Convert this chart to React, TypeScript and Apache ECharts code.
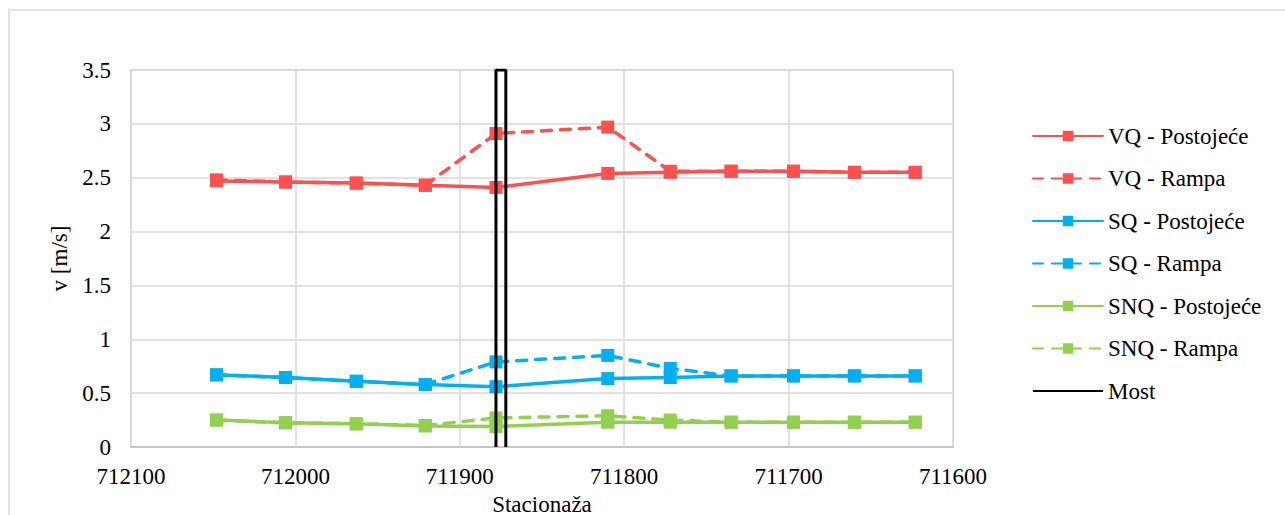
import React, { useEffect, useRef } from "react";
import * as echarts from "echarts";

const stations = [712048, 712006, 711963, 711921, 711878, 711810, 711772, 711735, 711697, 711660, 711623];
const vqPostojece = [2.47, 2.46, 2.45, 2.43, 2.41, 2.54, 2.55, 2.56, 2.56, 2.55, 2.55];
const vqRampa = [2.48, 2.46, 2.45, 2.43, 2.91, 2.97, 2.56, 2.56, 2.56, 2.55, 2.55];
const sqPostojece = [0.67, 0.645, 0.61, 0.58, 0.56, 0.635, 0.645, 0.66, 0.66, 0.66, 0.66];
const sqRampa = [0.67, 0.645, 0.61, 0.58, 0.79, 0.85, 0.73, 0.66, 0.66, 0.66, 0.66];
const snqPostojece = [0.25, 0.225, 0.215, 0.195, 0.19, 0.23, 0.23, 0.23, 0.23, 0.23, 0.23];
const snqRampa = [0.25, 0.225, 0.215, 0.2, 0.27, 0.29, 0.25, 0.23, 0.23, 0.23, 0.23];
const mostX = [711878, 711878, 711872, 711872];
const mostY = [0, 3.5, 3.5, 0];

const FONT = "Liberation Serif";
const RED = "#FF5050";
const BLUE = "#00B0F0";
const GREEN = "#92D050";

function pairs(xs: number[], ys: number[]) {
  return xs.map((x, i) => [x, ys[i]]);
}

function lineSeries(name: string, ys: number[], color: string, dashed: boolean) {
  return {
    name,
    type: "line",
    data: pairs(stations, ys),
    symbol: "rect",
    symbolSize: 13,
    showSymbol: true,
    itemStyle: { color },
    lineStyle: {
      color,
      width: 3.5,
      type: dashed ? [10, 9] : "solid",
      cap: "round",
    },
    z: dashed ? 3 : 2,
  };
}

export default function App() {
  const ref = useRef<HTMLDivElement>(null);
  useEffect(() => {
    if (!ref.current) return;
    const chart = echarts.init(ref.current, undefined, { renderer: "svg" });
    chart.setOption({
      animation: false,
      backgroundColor: "#ffffff",
      textStyle: { fontFamily: FONT },
      graphic: [
        {
          type: "rect",
          shape: { x: 9, y: 10, width: 1300, height: 600 },
          style: { fill: "none", stroke: "#d9d9d9", lineWidth: 1.5 },
          silent: true,
        },
      ],
      grid: {
        left: 131,
        top: 70,
        right: 332,
        bottom: 68,
        show: true,
        borderColor: "#d9d9d9",
        borderWidth: 1.5,
        containLabel: false,
        outerBoundsMode: "none",
      },
      legend: {
        orient: "vertical",
        left: 1032,
        top: 124,
        padding: 0,
        itemWidth: 70,
        itemHeight: 13,
        itemGap: 18.5,
        itemTextGap: 6,
        textStyle: { fontFamily: FONT, fontSize: 23, color: "#000", lineHeight: 24 },
        data: [
          "VQ - Postojeće",
          "VQ - Rampa",
          "SQ - Postojeće",
          "SQ - Rampa",
          "SNQ - Postojeće",
          "SNQ - Rampa",
          { name: "Most", itemStyle: { opacity: 0 } },
        ],
      },
      xAxis: {
        type: "value",
        inverse: true,
        min: 711600,
        max: 712100,
        interval: 100,
        name: "Stacionaža",
        nameLocation: "middle",
        nameGap: 36,
        nameTextStyle: { fontFamily: FONT, fontSize: 23, color: "#000" },
        axisLine: { show: true, lineStyle: { color: "#bfbfbf", width: 1.5 } },
        axisTick: { show: false },
        axisLabel: {
          fontFamily: FONT,
          fontSize: 23,
          color: "#000",
          margin: 18,
          formatter: (v: number) => String(v),
        },
        splitLine: { show: true, lineStyle: { color: "#d9d9d9", width: 1.5 } },
      },
      yAxis: {
        type: "value",
        min: 0,
        max: 3.5,
        interval: 0.5,
        name: "v [m/s]",
        nameLocation: "middle",
        nameRotate: 90,
        nameGap: 58,
        nameTextStyle: { fontFamily: FONT, fontSize: 23, color: "#000" },
        axisLine: { show: true, lineStyle: { color: "#d9d9d9", width: 1.5 } },
        axisTick: { show: false },
        axisLabel: { fontFamily: FONT, fontSize: 23, color: "#000", margin: 20 },
        splitLine: { show: true, lineStyle: { color: "#d9d9d9", width: 1.5 } },
      },
      series: [
        lineSeries("VQ - Postojeće", vqPostojece, RED, false),
        lineSeries("VQ - Rampa", vqRampa, RED, true),
        lineSeries("SQ - Postojeće", sqPostojece, BLUE, false),
        lineSeries("SQ - Rampa", sqRampa, BLUE, true),
        lineSeries("SNQ - Postojeće", snqPostojece, GREEN, false),
        lineSeries("SNQ - Rampa", snqRampa, GREEN, true),
        {
          name: "Most",
          type: "line",
          data: pairs(mostX, mostY),
          showSymbol: false,
          symbol: "none",
          itemStyle: { color: "#000" },
          lineStyle: { color: "#000", width: 3 },
          z: 5,
        },
      ],
    });
    return () => chart.dispose();
  }, []);
  return (
    <div
      ref={ref}
      style={{ position: "fixed", left: 0, top: 0, width: 1285, height: 515 }}
    />
  );
}
